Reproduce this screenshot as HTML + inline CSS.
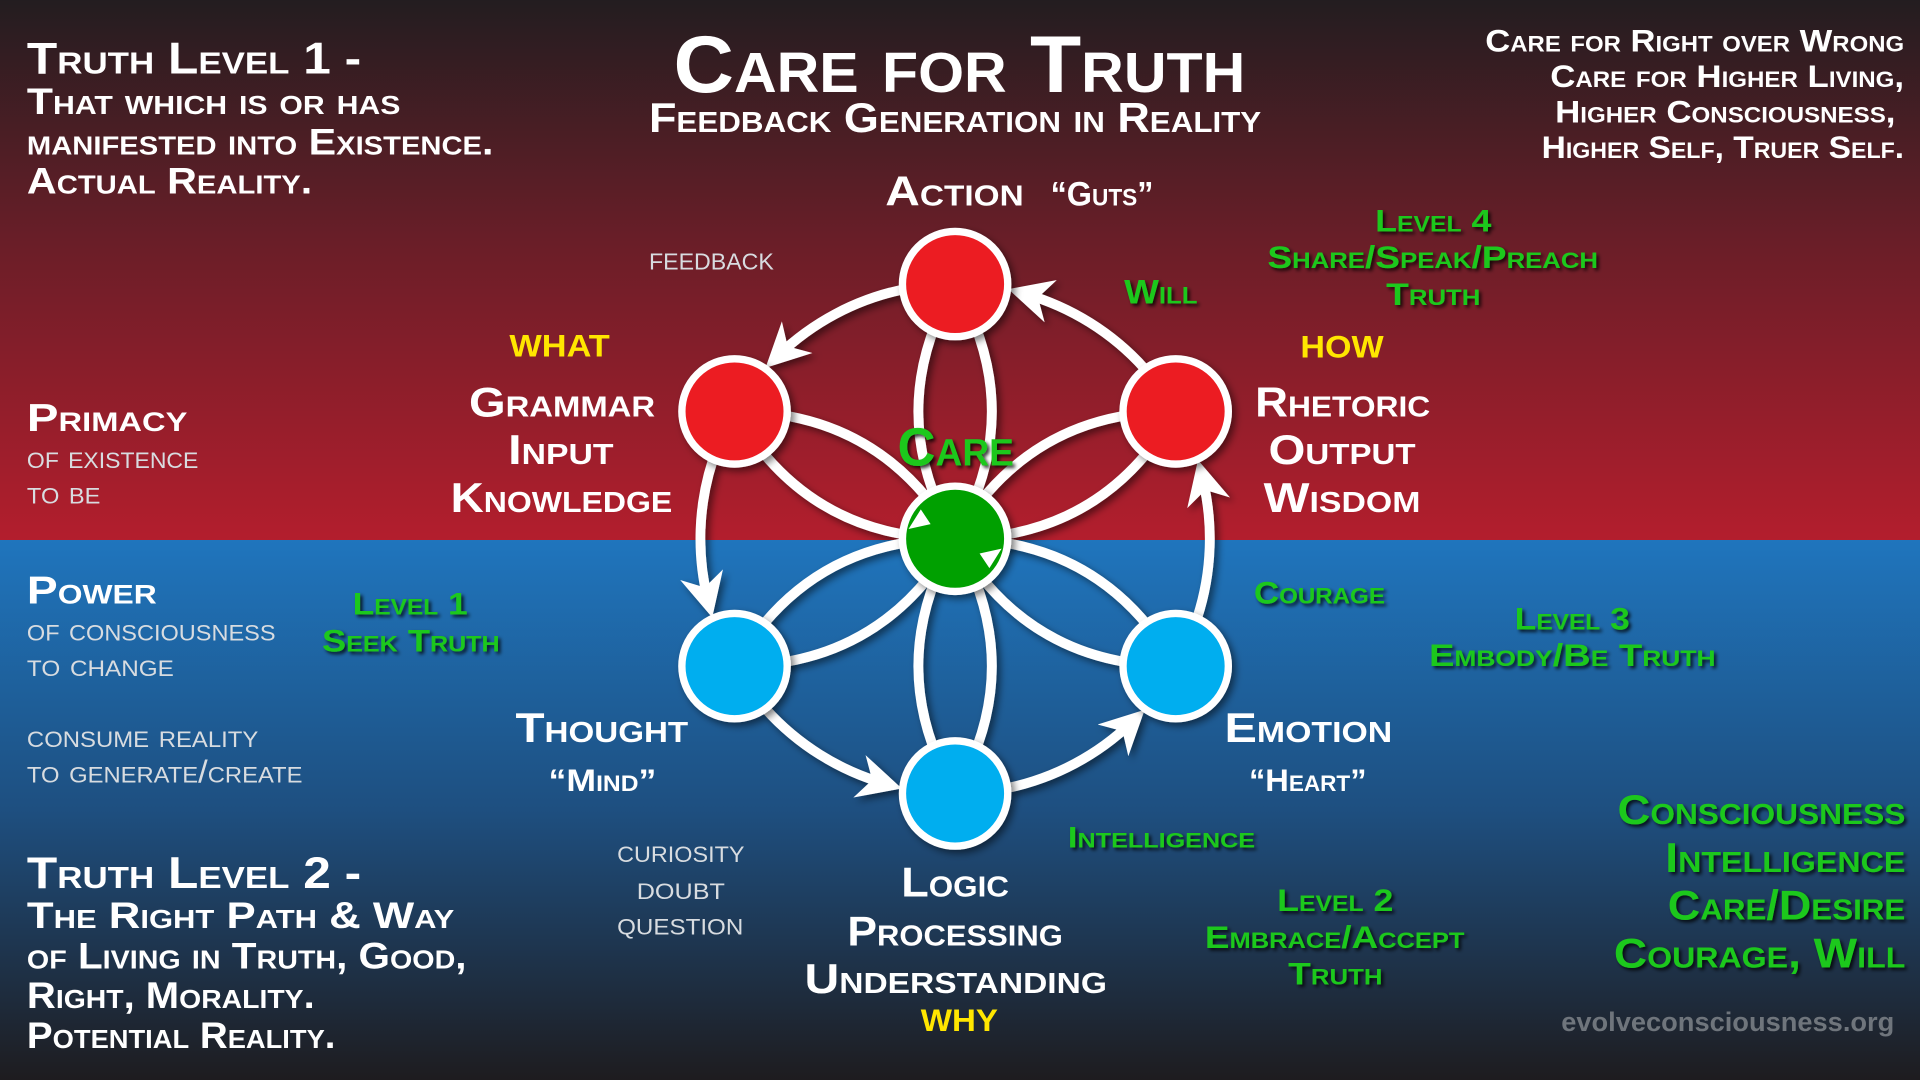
<!DOCTYPE html>
<html><head><meta charset="utf-8">
<style>
html,body{margin:0;padding:0;background:#1e1c1f;}
svg{display:block}
text{font-family:"Liberation Sans",sans-serif;font-variant:small-caps;font-weight:bold;fill:#fff}
.g{fill:#1ec81e;filter:url(#sh)}
.y{fill:#ffe600}
.gr{fill:#d8dce0;font-weight:normal}
</style></head>
<body>
<svg id="s" width="1920" height="1080" viewBox="0 0 1568 882" xmlns="http://www.w3.org/2000/svg">
<defs>
<linearGradient id="rt" x1="0" y1="0" x2="0" y2="1">
<stop offset="0" stop-color="#231d20"/><stop offset="0.45" stop-color="#6a1e28"/><stop offset="1" stop-color="#b31e2d"/></linearGradient>
<linearGradient id="bt" x1="0" y1="0" x2="0" y2="1">
<stop offset="0" stop-color="#1f75bd"/><stop offset="0.5" stop-color="#1e4f80"/><stop offset="1" stop-color="#1e1c1f"/></linearGradient>
<filter id="sh" x="-10%" y="-30%" width="130%" height="170%"><feDropShadow dx="2" dy="2" stdDeviation="1.5" flood-color="#000" flood-opacity="0.8"/></filter>
<filter id="ns" x="-30%" y="-30%" width="170%" height="170%"><feDropShadow dx="3" dy="3" stdDeviation="3" flood-color="#000" flood-opacity="0.5"/></filter>
<marker id="ar" viewBox="0 0 10 10" refX="6" refY="5" markerWidth="4.5" markerHeight="4.5" orient="auto" markerUnits="strokeWidth">
<path d="M0,0 L10,5 L0,10 L3,5 Z" fill="#fff"/></marker>
</defs>
<rect x="0" y="0" width="1568" height="441" fill="url(#rt)"/>
<rect x="0" y="441" width="1568" height="441" fill="url(#bt)"/>
<g id="lines" fill="none" stroke="#fff" stroke-width="8" filter="url(#ns)"></g>
<g id="nodes" filter="url(#ns)"></g>
<g id="txt"></g>
</svg>
<script>
var NS="http://www.w3.org/2000/svg";
var C=[780,440],R=208;
function P(a){a=a*Math.PI/180;return [C[0]+R*Math.cos(a),C[1]+R*Math.sin(a)];}
var L=document.getElementById('lines'),N=document.getElementById('nodes'),T=document.getElementById('txt');
function el(p,tag,at){var e=document.createElementNS(NS,tag);for(var k in at)e.setAttribute(k,at[k]);p.appendChild(e);return e;}
var angs=[-90,-30,30,90,150,210];
angs.forEach(function(a){
  var n=P(a),mx=(n[0]+C[0])/2,my=(n[1]+C[1])/2,dx=n[0]-C[0],dy=n[1]-C[1],l=Math.hypot(dx,dy),px=-dy/l*60,py=dx/l*60;
  [1,-1].forEach(function(s){el(L,'path',{d:'M'+C+' Q'+(mx+s*px)+','+(my+s*py)+' '+n});});
});
[[-90,-150],[210,150],[150,90],[90,30],[30,-30],[-30,-90]].forEach(function(p){
  var a0=p[0]-12,a1=p[1]+16;var s=P(a0),e=P(a1);
  el(L,'path',{d:'M'+s+' A'+R+','+R+' 0 0 0 '+e,'marker-end':'url(#ar)'});
});
var cols={'-90':'#ec1c24','-30':'#ec1c24','210':'#ec1c24','30':'#00aeef','90':'#00aeef','150':'#00aeef'};
angs.forEach(function(a){var n=P(a);el(N,'circle',{cx:n[0],cy:n[1],r:43,fill:cols[a],stroke:'#fff','stroke-width':6});});
el(N,'circle',{cx:780,cy:440,r:43,fill:'#00a000',stroke:'#fff','stroke-width':6});
el(N,'path',{d:'M742,432 L752,416 L760,428 Z M818,448 L808,464 L800,452 Z',fill:'#fff'});
function t(x,y,s,sz,w,cls,anchor){
  var e=el(T,'text',{x:x,y:y,'font-size':sz});
  if(cls)e.setAttribute('class',cls);
  if(anchor)e.setAttribute('text-anchor',anchor);
  if(w){e.setAttribute('textLength',w);e.setAttribute('lengthAdjust','spacingAndGlyphs');}
  e.textContent=s;return e;}
t(550,75,'Care for Truth',66,467);
t(530,108,'Feedback Generation in Reality',34,500);
t(22,60,'Truth Level 1 -',36,273);
t(22,93,'That which is or has',30,305);
t(22,126,'manifested into Existence.',30,381);
t(22,158,'Actual Reality.',30,233);
t(1213,42,'Care for Right over Wrong',26,342);
t(1266,71,'Care for Higher Living,',26,289);
t(1270,100,'Higher Consciousness,',26,278);
t(1259,129,'Higher Self, Truer Self.',26,296);
t(723,168,'Action',34,113);
t(858,168,'“Guts”',28,84);
t(530,220,'FEEDBACK',19,102,'gr');
t(1123,189,'Level 4',26,95,'g');
t(1035,219,'Share/Speak/Preach',26,270,'g');
t(1132,249,'Truth',26,77,'g');
t(918,248,'Will',28,60,'g');
t(416,291,'WHAT',26,82,'y');
t(1062,292,'HOW',26,68,'y');
t(383,340,'Grammar',34,152);
t(415,379,'Input',34,86);
t(368,418,'Knowledge',34,181);
t(1025,340,'Rhetoric',34,143);
t(1036,379,'Output',34,120);
t(1032,418,'Wisdom',34,128);
t(733,380,'Care',44,95,'g');
t(22,352,'Primacy',32,131);
t(22,382,'of existence',26,140,'gr');
t(22,411,'to be',26,60,'gr');
t(22,493,'Power',32,106);
t(22,523,'of consciousness',26,203,'gr');
t(22,552,'to change',26,120,'gr');
t(288,502,'Level 1',26,94,'g');
t(263,532,'Seek Truth',26,145,'g');
t(22,610,'consume reality',26,189,'gr');
t(22,639,'to generate/create',26,225,'gr');
t(1024,493,'Courage',26,107,'g');
t(1237,514,'Level 3',26,94,'g');
t(1167,544,'Embody/Be Truth',26,234,'g');
t(421,606,'Thought',34,141);
t(448,646,'“Mind”',26,88);
t(1000,606,'Emotion',34,137);
t(1020,646,'“Heart”',26,96);
t(872,692,'Intelligence',24,153,'g');
t(504,704,'curiosity',26,104,'gr');
t(520,734,'doubt',26,72,'gr');
t(504,763,'question',26,103,'gr');
t(736,732,'Logic',34,88);
t(692,772,'Processing',34,176);
t(657,811,'Understanding',34,247);
t(752,842,'WHY',26,63,'y');
t(1043,744,'Level 2',26,95,'g');
t(984,774,'Embrace/Accept',26,212,'g');
t(1052,804,'Truth',26,77,'g');
t(1321,673,'Consciousness',34,235,'g');
t(1360,712,'Intelligence',34,196,'g');
t(1362,751,'Care/Desire',34,194,'g');
t(1318,790,'Courage, Will',34,238,'g');
t(22,725,'Truth Level 2 -',36,273);
t(22,758,'The Right Path & Way',30,349);
t(22,791,'of Living in Truth, Good,',30,359);
t(22,823,'Right, Morality.',30,235);
t(22,856,'Potential Reality.',30,252);
var w=t(1275,842,'evolveconsciousness.org',22,272);w.setAttribute('style','font-variant:normal;font-weight:bold;fill:#6f757c');
</script>
</body></html>
